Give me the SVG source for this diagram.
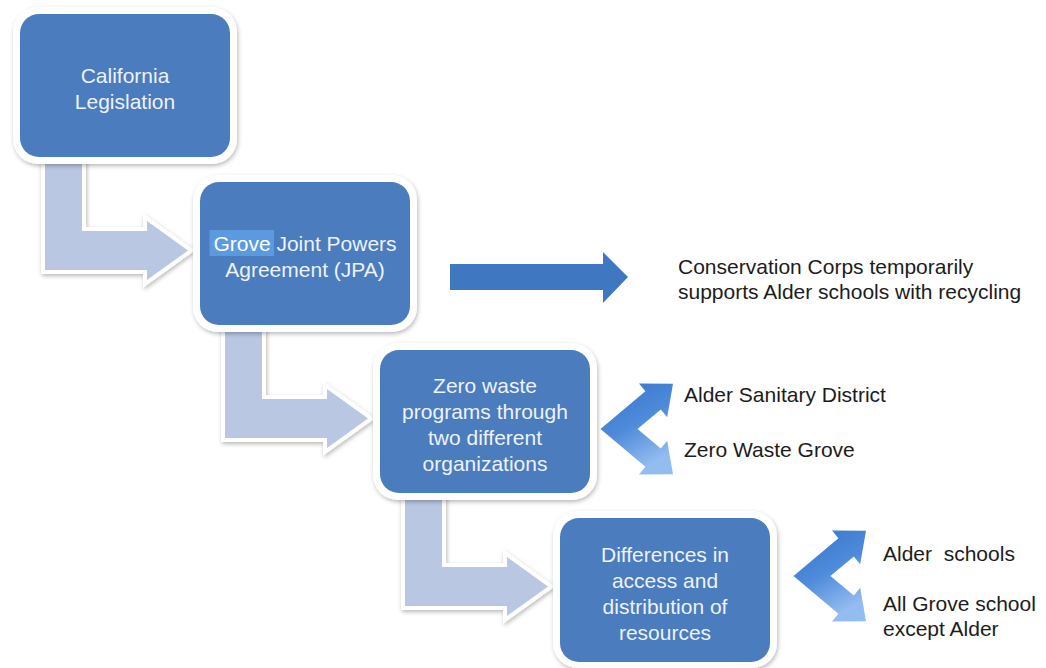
<svg xmlns="http://www.w3.org/2000/svg" width="1046" height="668" viewBox="0 0 1046 668">
<defs>
<filter id="sh" x="-10%" y="-10%" width="120%" height="125%">
<feDropShadow dx="1" dy="2" stdDeviation="2" flood-color="#000" flood-opacity="0.28"/>
</filter>
<linearGradient id="cg" x1="0" y1="0" x2="0.45" y2="1">
<stop offset="0" stop-color="#3673c9"/>
<stop offset="0.55" stop-color="#4f8bda"/>
<stop offset="1" stop-color="#93bcf0"/>
</linearGradient>
<style>
.frame{fill:#fff;filter:url(#sh)}
.box{fill:#4a7cbe}
.bt{font-family:"Liberation Sans",Arial,sans-serif;font-size:21px;fill:#eef2f9;text-anchor:middle}
.rt{font-family:"Liberation Sans",Arial,sans-serif;font-size:21px;fill:#1c1c1c}
.bent{fill:#b9c7e3;stroke:#fff;stroke-width:8;stroke-linejoin:miter;paint-order:stroke;filter:url(#sh)}
.chev{fill:url(#cg)}
</style>
</defs>
<rect width="1046" height="668" fill="#fff"/>
<g id="connectors">
<polygon class="bent" points="45,150 82,150 82,231 147,231 147,221 188,250.5 147,280 147,270 45,270"/>
<polygon class="bent" points="225,318 262,318 262,399 327,399 327,389 368,418.5 327,448 327,438 225,438"/>
<polygon class="bent" points="405,486 442,486 442,567 507,567 507,557 548,586.5 507,616 507,606 405,606"/>
<polygon fill="#3f78c1" points="450,264 603,264 603,252 628,277 603,303 603,290 450,290"/>
<polygon class="chev" points="600.5,429 645.4,391.3 639,383.5 673,383.7 667.2,417.3 660.8,409.5 637.5,429 660.8,448.5 667.2,440.7 673,474.3 639,474.5 645.4,466.7"/>
<polygon class="chev" transform="translate(193,147)" points="600.5,429 645.4,391.3 639,383.5 673,383.7 667.2,417.3 660.8,409.5 637.5,429 660.8,448.5 667.2,440.7 673,474.3 639,474.5 645.4,466.7"/>
</g>
<g id="node1">
<rect class="frame" x="13" y="7" width="224" height="157" rx="25"/>
<rect class="box" x="20" y="14" width="210" height="143" rx="19"/>
<text class="bt" x="125" y="82.5">California</text>
<text class="bt" x="125" y="108.5">Legislation</text>
</g>
<g id="node2">
<rect class="frame" x="193" y="175" width="224" height="157" rx="25"/>
<rect class="box" x="200" y="182" width="210" height="143" rx="19"/>
<rect x="209.5" y="230" width="64.5" height="26" fill="#5b9ade"/>
<text class="bt" x="305" y="250.5"><tspan fill="#fff">Grove</tspan> Joint Powers</text>
<text class="bt" x="305" y="276.5">Agreement (JPA)</text>
</g>
<g id="node3">
<rect class="frame" x="373" y="343" width="224" height="157" rx="25"/>
<rect class="box" x="380" y="350" width="210" height="143" rx="19"/>
<text class="bt" x="485" y="392.5">Zero waste</text>
<text class="bt" x="485" y="418.5">programs through</text>
<text class="bt" x="485" y="444.5">two different</text>
<text class="bt" x="485" y="470.5">organizations</text>
</g>
<g id="node4">
<rect class="frame" x="553" y="511" width="224" height="157" rx="25"/>
<rect class="box" x="560" y="518" width="210" height="144" rx="19"/>
<text class="bt" x="665" y="562">Differences in</text>
<text class="bt" x="665" y="588">access and</text>
<text class="bt" x="665" y="614">distribution of</text>
<text class="bt" x="665" y="640">resources</text>
</g>
<g id="label-corps">
<text class="rt" x="678" y="274">Conservation Corps temporarily</text>
<text class="rt" x="678" y="299">supports Alder schools with recycling</text>
</g>
<g id="label-orgs">
<text class="rt" x="684" y="402">Alder Sanitary District</text>
<text class="rt" x="684" y="457">Zero Waste Grove</text>
</g>
<g id="label-schools">
<text class="rt" x="883" y="561" xml:space="preserve">Alder  schools</text>
<text class="rt" x="883" y="611">All Grove school</text>
<text class="rt" x="883" y="636">except Alder</text>
</g>
</svg>
